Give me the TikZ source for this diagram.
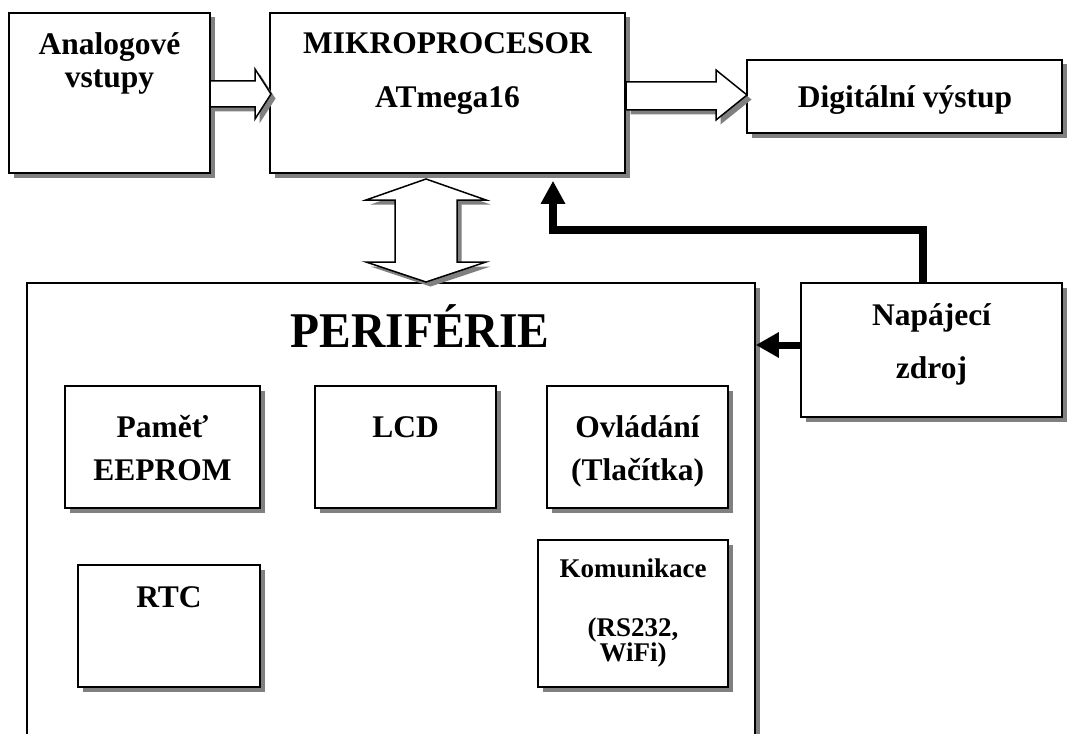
\documentclass[tikz,border=0pt]{standalone}
\usepackage{fontspec}
\setmainfont{Liberation Serif}
\usetikzlibrary{arrows.meta,shadows}
\definecolor{shd}{HTML}{808080}
\begin{document}
\begin{tikzpicture}[x=1pt,y=-1pt,
  sh/.style={general shadow={fill=shd, shadow xshift=4.5pt, shadow yshift=-4.5pt}},
  box/.style={draw, line width=1.6pt, fill=white, rectangle, inner sep=0pt, sh},
  lbl/.style={anchor=base, inner sep=0pt, font=\fontsize{31.5}{31.5}\selectfont\bfseries},
  sml/.style={anchor=base, inner sep=0pt, font=\fontsize{27}{27}\selectfont\bfseries},
  big/.style={anchor=base, inner sep=0pt, font=\fontsize{50}{50}\selectfont\bfseries},
  blk/.style={draw, line width=1.5pt, fill=white, line join=miter, sh},
  pwr/.style={line width=8pt, line join=miter, -{Triangle[length=23pt,width=23pt]}},
  pwrs/.style={line width=7pt, -{Triangle[length=23pt,width=24pt]}}
]
\useasboundingbox (0,0) rectangle (1067,733);
\clip (0,0) rectangle (1067,733);

% main boxes
\node[box, minimum width=201pt, minimum height=160pt] (an) at (109.5,93) {};
\node[box, minimum width=355pt, minimum height=160pt] (mcu) at (447.5,93) {};
\node[box, minimum width=315pt, minimum height=73pt] (dig) at (904.5,96.5) {};
\node[box, minimum width=728pt, minimum height=477pt] (per) at (391,521.5) {};
\node[box, minimum width=261pt, minimum height=134pt] (nap) at (931.5,350) {};

% inner boxes
\node[box, minimum width=195pt, minimum height=122pt] (mem) at (162.5,447) {};
\node[box, minimum width=181pt, minimum height=122pt] (lcd) at (405.5,447) {};
\node[box, minimum width=181pt, minimum height=122pt] (ovl) at (637.5,447) {};
\node[box, minimum width=182pt, minimum height=122pt] (rtc) at (169,626) {};
\node[box, minimum width=190pt, minimum height=147pt] (kom) at (633,613.5) {};

% texts
\node[lbl] (t1) at (109.5,55) {Analogové};
\node[lbl] (t2) at (109.5,88) {vstupy};
\node[lbl] (t3) at (447.5,54) {MIKROPROCESOR};
\node[lbl] (t4) at (447.5,107) {ATmega16};
\node[lbl] (t5) at (905,107) {Digitální výstup};
\node[lbl] (t6) at (931.5,325) {Napájecí};
\node[lbl] (t7) at (931.5,378) {zdroj};
\node[big] (t8) at (420,347) {\scalebox{0.95}[1]{PERIFÉRIE}};
\node[lbl] (t9) at (162.5,437) {Paměť};
\node[lbl] (t10) at (162.5,480) {EEPROM};
\node[lbl] (t11) at (405.5,437) {LCD};
\node[lbl] (t12) at (637.5,437) {Ovládání};
\node[lbl] (t13) at (637.5,480) {(Tlačítka)};
\node[lbl] (t14) at (169,607) {RTC};
\node[sml] (t15) at (633,577) {Komunikace};
\node[sml] (t16) at (633,636) {(RS232,};
\node[sml] (t17) at (633,661) {WiFi)};

% block arrows
\draw[blk] (210,81) -- (255,81) -- (255,69) -- (271,94) -- (255,119) -- (255,107) -- (210,107) -- cycle;
\draw[blk] (626,82) -- (716,82) -- (716,70) -- (747,95) -- (716,120) -- (716,110) -- (626,110) -- cycle;
\draw[blk] (426,179) -- (486,200) -- (457,200) -- (457,262) -- (486,262) -- (426,282)
  -- (366,262) -- (395,262) -- (395,200) -- (366,200) -- cycle;

% power lines
\draw[pwr] ([xshift=-8.5pt]nap.north) -- ++(0,-52) -| ([xshift=105.5pt,yshift=-7pt]mcu.south);
\draw[pwrs] (nap.west |- 0,345) -- (per.east |- 0,345);
\end{tikzpicture}
\end{document}
